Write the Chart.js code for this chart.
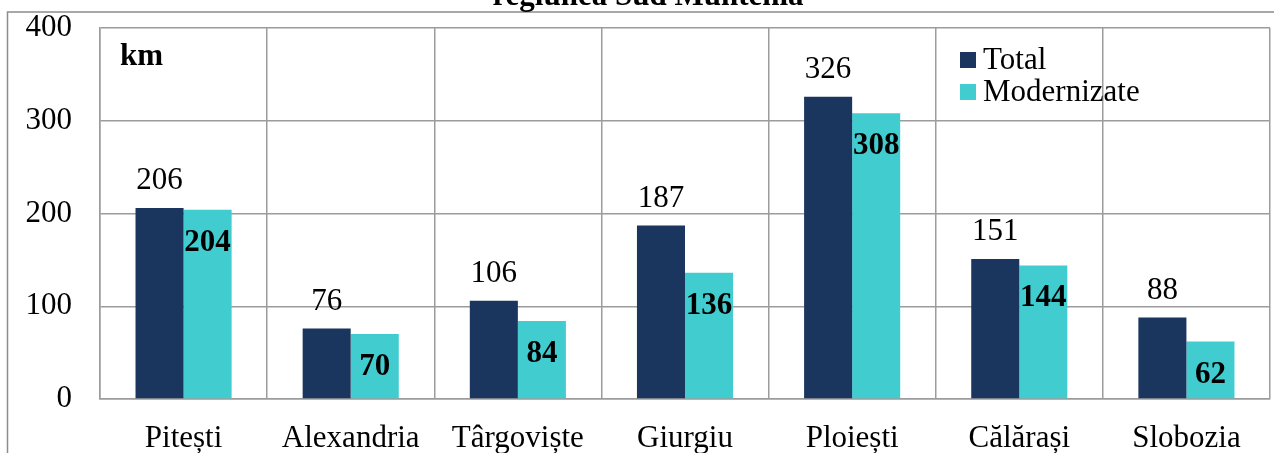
<!DOCTYPE html>
<html>
<head>
<meta charset="utf-8">
<script src="https://cdn.jsdelivr.net/npm/chart.js@4"></script>
<style>
  html, body { margin: 0; padding: 0; background: #fff; }
  #wrap { width: 1274px; height: 453px; position: relative; }
</style>
</head>
<body>
<div id="wrap"><canvas id="chart"></canvas></div>
<script>
// ================== Data ==================
const cities = ['Pitești', 'Alexandria', 'Târgoviște', 'Giurgiu', 'Ploiești', 'Călărași', 'Slobozia'];
const total = [206, 76, 106, 187, 326, 151, 88];
const modernizate = [204, 70, 84, 136, 308, 144, 62];
const titleText = 'regiunea Sud Muntenia';
const unitText = 'km';

const FONT = '"Liberation Serif", "Times New Roman", serif';
const NAVY = '#1b365e';
const TEAL = '#41cdd0';
const GRID = '#9c9c9c';

// Plugin: outer frame + cut title
const FramePlugin = {
  id: 'frame',
  beforeDraw(chart) {
    const { ctx } = chart;
    ctx.save();
    ctx.fillStyle = '#fff';
    ctx.fillRect(0, 0, chart.width, chart.height);
    ctx.strokeStyle = '#8c8c8c';
    ctx.lineWidth = 1.5;
    ctx.beginPath();
    ctx.moveTo(7.5, chart.height);
    ctx.lineTo(7.5, 12);
    ctx.lineTo(chart.width, 12);
    ctx.stroke();
    ctx.font = 'bold 31px ' + FONT;
    ctx.fillStyle = '#000';
    ctx.textAlign = 'center';
    ctx.textBaseline = 'alphabetic';
    ctx.fillText(titleText, 648, 5);
    ctx.restore();
  }
};

// Plugin: value labels, unit text, legend
const LabelsPlugin = {
  id: 'labels',
  afterDatasetsDraw(chart) {
    const { ctx, chartArea } = chart;
    ctx.save();
    ctx.textAlign = 'center';
    ctx.textBaseline = 'middle';
    ctx.fillStyle = '#000';

    chart.getDatasetMeta(0).data.forEach((bar, i) => {
      ctx.font = '31px ' + FONT;
      ctx.fillText(String(total[i]), bar.x, bar.y - 27);
    });
    chart.getDatasetMeta(1).data.forEach((bar, i) => {
      ctx.font = 'bold 31px ' + FONT;
      ctx.fillText(String(modernizate[i]), bar.x, bar.y + 33);
    });

    // unit
    ctx.textAlign = 'left';
    ctx.font = 'bold 31px ' + FONT;
    ctx.fillText(unitText, chartArea.left + 20, 57);

    // legend
    const items = [
      { label: chart.data.datasets[0].label, color: NAVY, y: 60 },
      { label: chart.data.datasets[1].label, color: TEAL, y: 92 }
    ];
    ctx.font = '31px ' + FONT;
    items.forEach(it => {
      ctx.fillStyle = it.color;
      ctx.fillRect(960, it.y - 8, 16, 16);
      ctx.fillStyle = '#000';
      ctx.fillText(it.label, 983, it.y + 1);
    });
    ctx.restore();
  }
};

new Chart(document.getElementById('chart'), {
  type: 'bar',
  plugins: [FramePlugin, LabelsPlugin],
  data: {
    labels: cities,
    datasets: [
      { label: 'Total', data: total, backgroundColor: NAVY, barPercentage: 1, categoryPercentage: 0.575 },
      { label: 'Modernizate', data: modernizate, backgroundColor: TEAL, barPercentage: 1, categoryPercentage: 0.575 }
    ]
  },
  options: {
    responsive: true,
    maintainAspectRatio: false,
    animation: false,
    layout: { padding: { left: 8, right: 4, top: 28, bottom: 0 } },
    plugins: {
      legend: { display: false },
      tooltip: { enabled: false },
      title: { display: false }
    },
    scales: {
      x: {
        afterFit(s) { s.height = 54; s.paddingLeft = 0; s.paddingRight = 0; },
        grid: { color: GRID, lineWidth: 1.5, drawTicks: false, offset: true },
        border: { color: GRID, width: 1.5 },
        ticks: { color: '#000', font: { family: FONT, size: 31 }, padding: 21, maxRotation: 0 }
      },
      y: {
        min: 0, max: 400,
        afterFit(s) { s.width = 92; s.paddingTop = 0; s.paddingBottom = 0; },
        grid: { color: GRID, lineWidth: 1.5, drawTicks: false },
        border: { color: GRID, width: 1.5 },
        ticks: { stepSize: 100, color: '#000', font: { family: FONT, size: 31 }, padding: 28 }
      }
    }
  }
});
</script>
</body>
</html>
